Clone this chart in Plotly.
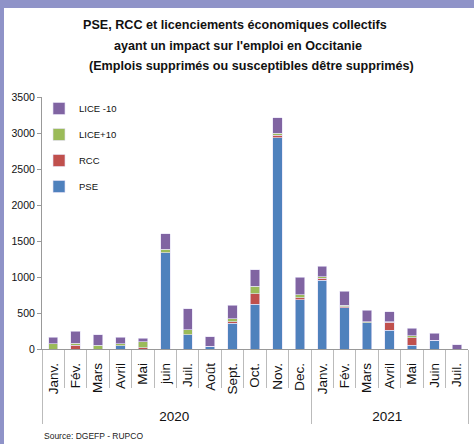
import plotly.graph_objects as go

# Data
years = ["2020"] * 12 + ["2021"] * 7
# "\u200b" keeps the 2021 "Juil." after "Juin" (plotly orders inner labels by first appearance)
months = ["Janv.", "Fév.", "Mars", "Avril", "Mai", "juin", "Juil.", "Août", "Sept.", "Oct.", "Nov.", "Dec.",
          "Janv.", "Fév.", "Mars", "Avril", "Mai", "Juin", "Juil.\u200b"]
pse = [0, 0, 0, 45, 0, 1340, 200, 40, 355, 625, 2935, 685, 955, 570, 365, 260, 55, 120, 0]
rcc = [0, 50, 0, 0, 15, 0, 0, 0, 25, 145, 35, 25, 25, 20, 0, 115, 100, 0, 0]
lice_plus = [70, 30, 50, 30, 85, 45, 70, 0, 40, 100, 25, 45, 25, 20, 15, 5, 30, 0, 0]
lice_minus = [95, 165, 150, 85, 50, 215, 290, 130, 185, 230, 220, 240, 145, 190, 160, 135, 105, 100, 60]

title_lines = ["PSE, RCC et licenciements économiques collectifs",
               "ayant un impact sur l'emploi en Occitanie",
               "(Emplois supprimés ou susceptibles dêtre supprimés)"]

colors = {"PSE": "#4F81BD", "RCC": "#C0504D", "LICE+10": "#9BBB59", "LICE -10": "#8064A2"}
font = "Liberation Sans, Arial, sans-serif"

W, H = 474, 444
L, R, T, B = 42, 6, 97, 95

# trailing no-break spaces push the rotated month labels a bit below the axis
month_labels = [m + "\u00a0\u00a0" for m in months]

fig = go.Figure()
series = [("PSE", pse), ("RCC", rcc), ("LICE+10", lice_plus), ("LICE -10", lice_minus)]
for i, (name, vals) in enumerate(series):
    fig.add_trace(go.Bar(
        x=[years, month_labels], y=vals, name=name, legendgroup=name, legendrank=len(series) - i,
        marker=dict(color=colors[name], line=dict(color="rgba(230,225,245,0.8)", width=0.8)),
    ))

pw = W - L - R
ph = H - T - B
def px(v):
    return (v - L) / pw
def py(v):
    return (H - B - v) / ph

# purple frame at left and top
border = "#8F93C8"
fig.add_shape(type="rect", xref="paper", yref="paper", x0=px(0), x1=px(4), y0=py(H), y1=py(0),
              fillcolor=border, line_width=0, layer="below")
fig.add_shape(type="rect", xref="paper", yref="paper", x0=px(0), x1=px(W), y0=py(8), y1=py(0),
              fillcolor=border, line_width=0, layer="below")

# title, three lines
for txt, yy, xx in zip(title_lines, [25, 46, 66], [235, 238, 251]):
    fig.add_annotation(text="<b>" + txt + "</b>", xref="paper", yref="paper", x=px(xx), y=py(yy),
                       xanchor="center", yanchor="middle", showarrow=False,
                       font=dict(size=12.6, color="#111"))

fig.add_annotation(text="Source: DGEFP - RUPCO", xref="paper", yref="paper", x=px(42), y=py(436),
                   xanchor="left", yanchor="middle", showarrow=False, font=dict(size=8.5, color="#222"))

fig.update_layout(
    width=W, height=H,
    margin=dict(l=L, r=R, t=T, b=B, autoexpand=False),
    barmode="stack", bargap=0.58,
    paper_bgcolor="white", plot_bgcolor="white",
    font=dict(family=font, color="#111", size=11),
    legend=dict(x=px(39), y=py(94), xanchor="left", yanchor="top", traceorder="grouped",
                bgcolor="rgba(0,0,0,0)", font=dict(size=9.5), itemwidth=30, tracegroupgap=7),
    showlegend=True,
)
fig.update_yaxes(range=[0, 3500], dtick=500, showgrid=False, showline=True, linecolor="#999",
                 ticks="outside", ticklen=4, tickcolor="#999", zeroline=False, tickfont=dict(size=10.5))
fig.update_xaxes(type="multicategory", tickangle=-90, showline=True, linecolor="#999",
                 ticks="outside", tickson="boundaries", ticklen=38, tickcolor="#bbb",
                 showdividers=True, dividercolor="#bbb", dividerwidth=1, tickfont=dict(size=13.5))

fig.write_html("out.html", config={"displayModeBar": False},
               post_script="document.body.style.margin='0';document.body.style.overflow='hidden';")
